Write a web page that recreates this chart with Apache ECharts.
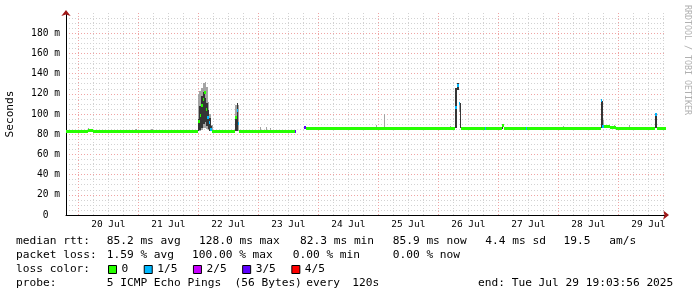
<!DOCTYPE html>
<html><head><meta charset="utf-8">
<script src="https://cdn.jsdelivr.net/npm/echarts@6/dist/echarts.min.js"></script>
<style>html,body{margin:0;padding:0;background:#fff}#c{width:697px;height:297px}</style>
</head><body><div id="c"></div>
<script>
// x values are hours relative to 20 Jul 00:00; graph ends Tue Jul 29 19:03:56 2025 (10 days shown)
const X_MIN = -4.934, X_MAX = 235.066;
const dayLabels = ['20 Jul','21 Jul','22 Jul','23 Jul','24 Jul','25 Jul','26 Jul','27 Jul','28 Jul','29 Jul'];
const dayLabelHours = [12,36,60,84,108,132,156,180,204,228];
const majorGridHours = [0,24,48,72,96,120,144,168,192,216];
const minorGridHours = [6,12,18,30,36,42,54,60,66,78,84,90,102,108,114,126,132,138,150,156,162,174,180,186,198,204,210,222,228,234];

// outer smoke (spread of all 5 pings), ms
const outerStart = [3.87, 22.67, 29.07, 46.67, 47.67, 48.27, 49.07, 49.87, 50.47, 51.07, 51.67, 52.27, 53.07, 62.67, 72.67, 75.07, 76.67, 119.07, 122.07, 148.67, 152.39, 193.87, 209.87, 214.27, 220.27];
const outerEnd   = [4.27, 23.27, 29.67, 47.27, 48.27, 49.07, 49.87, 50.47, 51.07, 51.67, 52.27, 53.07, 53.87, 64.07, 73.07, 75.47, 77.07, 119.47, 122.47, 149.07, 152.79, 194.27, 210.27, 214.67, 220.67];
const outerLow   = [82, 82, 82, 82, 83, 83, 84, 86, 86, 85, 84, 83, 83, 83, 82, 82, 82, 85, 85, 85, 102, 85, 88, 86, 85];
const outerHigh  = [86, 85, 85, 84, 120, 123, 126, 131, 132, 127, 112, 100, 89, 109, 87, 87, 86, 89, 100, 88, 109, 88, 94, 89, 89];

// inner smoke (dense part of the pings), ms
const innerStart = [47.67, 48.27, 49.07, 49.87, 50.47, 51.07, 51.67, 52.27, 53.07, 62.67, 63.27, 150.67, 151.47, 152.79, 169.47, 209.19, 230.79];
const innerEnd   = [48.27, 49.07, 49.87, 50.47, 51.07, 51.67, 52.27, 53.07, 53.47, 63.27, 63.87, 151.47, 152.39, 153.19, 169.87, 209.87, 231.47];
const innerLow   = [83, 84, 86, 90, 92, 88, 85, 83, 83, 83, 83, 86, 124, 86, 85, 86, 86];
const innerHigh  = [95, 108, 118, 122, 116, 111, 104, 96, 88, 98, 111, 126, 131, 111, 89, 113, 100];

// median rtt segments, ms, with packet loss (lost pings of 5)
const medianStart = [-4.934, 3.87, 5.87, 47.87, 48.47, 49.07, 49.67, 50.27, 50.87, 51.47, 52.07, 52.67, 53.27, 62.67, 63.27, 63.67, 64.07, 86.47, 90.27, 91.07, 150.67, 151.47, 152.39, 153.19, 162.47, 162.87, 169.47, 170.27, 179.07, 179.47, 209.19, 209.59, 210.27, 212.67, 215.07, 230.79, 231.47];
const medianEnd   = [3.87, 5.87, 47.87, 48.47, 49.07, 49.67, 50.27, 50.87, 51.47, 52.07, 52.67, 53.27, 62.67, 63.27, 63.67, 64.07, 86.47, 87.07, 91.07, 150.67, 151.47, 152.39, 152.79, 162.47, 162.87, 169.47, 170.27, 179.07, 179.47, 209.19, 209.59, 210.27, 212.67, 215.07, 230.79, 231.47, 235.066];
const medianValue = [82.5, 83.5, 82.5, 93, 99, 108, 114, 121, 104, 97, 92, 85, 82.5, 97, 103, 91, 82.5, 83, 86.5, 86, 106, 128, 110, 86, 86, 86, 88.5, 86, 86, 86, 113, 87.5, 88, 87, 86, 100, 86];
const medianLoss  = [0, 0, 0, 0, 0, 0, 0, 0, 0, 1, 1, 1, 0, 0, 1, 1, 0, 3, 3, 0, 1, 1, 1, 0, 1, 0, 0, 0, 1, 0, 1, 1, 0, 0, 0, 1, 0];

const lossLabels = ['0', '1/5', '2/5', '3/5', '4/5'];
const lossColors = ['#26ff00', '#00b8ff', '#c800ff', '#5e00ff', '#ff0000'];

const MONO = '"DejaVu Sans Mono", monospace';

function rectRender(color) {
  return function (params, api) {
    const p0 = api.coord([api.value(0), api.value(3)]);
    const p1 = api.coord([api.value(1), api.value(2)]);
    const x0 = Math.round(p0[0]);
    const x1 = Math.max(Math.round(p1[0]), x0 + 1);
    const y0 = Math.round(p0[1]);
    const y1 = Math.max(Math.round(p1[1]), y0 + 1);
    return { type: 'rect', shape: { x: x0, y: y0, width: x1 - x0, height: y1 - y0 }, style: { fill: color } };
  };
}
function medianRender(color) {
  return function (params, api) {
    const p0 = api.coord([api.value(0), api.value(2)]);
    const p1 = api.coord([api.value(1), api.value(2)]);
    const x0 = Math.round(p0[0]);
    const x1 = Math.max(Math.round(p1[0]), x0 + 1);
    return { type: 'rect', shape: { x: x0, y: Math.round(p0[1] - 1.5), width: x1 - x0, height: 3 }, style: { fill: color } };
  };
}
function vGridRender(color) {
  return function (params, api) {
    const x = Math.floor(api.coord([api.value(0), 0])[0]) + 0.5;
    const cs = params.coordSys;
    return { type: 'line', shape: { x1: x, y1: cs.y, x2: x, y2: cs.y + cs.height }, style: { stroke: color, lineWidth: 1, lineDash: [1, 2] }, silent: true };
  };
}

const outerData = outerStart.map((s, i) => [s, outerEnd[i], outerLow[i], outerHigh[i]]);
const innerData = innerStart.map((s, i) => [s, innerEnd[i], innerLow[i], innerHigh[i]]);

const series = [
  { type: 'custom', name: 'minorgrid', z: 1, silent: true, renderItem: vGridRender('#d2d2d2'), data: minorGridHours.map(h => [h]), encode: { x: 0 } },
  { type: 'custom', name: 'majorgrid', z: 1, silent: true, renderItem: vGridRender('#f0a4a4'), data: majorGridHours.map(h => [h]), encode: { x: 0 } },
  { type: 'custom', name: 'smokeOuter', z: 2, silent: true, clip: true, renderItem: rectRender('#a4a4a4'), data: outerData, encode: { x: [0, 1], y: [2, 3] } },
  { type: 'custom', name: 'smokeInner', z: 3, silent: true, clip: true, renderItem: rectRender('#353535'), data: innerData, encode: { x: [0, 1], y: [2, 3] } }
];
lossLabels.forEach((lab, k) => {
  const d = [];
  medianStart.forEach((s, i) => { if (medianLoss[i] === k) d.push([s, medianEnd[i], medianValue[i]]); });
  series.push({ type: 'custom', name: lab, z: 4, silent: true, clip: true, itemStyle: { color: lossColors[k] }, renderItem: medianRender(lossColors[k]), data: d, encode: { x: [0, 1], y: [2] } });
});

const textLines = [
  [241.5, [['median rtt:', 16], ['85.2 ms avg', 106.7], ['128.0 ms max', 199], ['82.3 ms min', 300], ['85.9 ms now', 392.7], ['4.4 ms sd', 485.3], ['19.5', 563.5], ['am/s', 609.3]]],
  [255.5, [['packet loss:', 16], ['1.59 % avg', 106.7], ['100.00 % max', 192], ['0.00 % min', 292.7], ['0.00 % now', 392.7]]],
  [269.5, [['loss color:', 16]]],
  [283.5, [['probe:', 16], ['5 ICMP Echo Pings', 106.7], ['(56 Bytes)', 234.5], ['every', 306.3], ['120s', 352.3], ['end: Tue Jul 29 19:03:56 2025', 478]]]
];
const graphics = [];
textLines.forEach(([y, segs]) => segs.forEach(([t, x]) => graphics.push({
  type: 'text', x: x, y: y, silent: true,
  style: { text: t, font: '11.2px ' + MONO, fill: '#000', verticalAlign: 'middle', align: 'left' }
})));
graphics.push({ type: 'text', x: 687.5, y: 60, rotation: -Math.PI / 2, silent: true,
  style: { text: 'RRDTOOL / TOBI OETIKER', font: '8.3px ' + MONO, fill: '#b0b0b0', align: 'center', verticalAlign: 'middle' } });

const yMajorColors = ['#f0a4a4','#f0a4a4','#f0a4a4','#f0a4a4','#f0a4a4','#f0a4a4','#f0a4a4','#f0a4a4','#f0a4a4','#f0a4a4','rgba(0,0,0,0)'];

const option = {
  animation: false,
  backgroundColor: '#ffffff',
  grid: { left: 66, top: 13, width: 600, height: 202, containLabel: false, outerBoundsMode: 'none' },
  xAxis: [
    { type: 'value', min: X_MIN, max: X_MAX, position: 'bottom',
      axisLine: { show: true, onZero: false, lineStyle: { color: '#000', width: 1 } },
      axisTick: { show: false }, splitLine: { show: false },
      axisLabel: { show: true, customValues: dayLabelHours, margin: 5, fontFamily: MONO, fontSize: 9.5, color: '#000',
        formatter: v => { const i = dayLabelHours.indexOf(Math.round(v)); return (i >= 0 && Math.abs(v - dayLabelHours[i]) < 0.01) ? dayLabels[i] : ''; } } },
    { type: 'value', min: X_MIN, max: X_MAX, position: 'bottom',
      axisLine: { show: true, onZero: false, symbol: ['none', 'arrow'], symbolSize: [7, 6], symbolOffset: [0, 3], lineStyle: { color: '#a01818', width: 0 } },
      axisTick: { show: false }, splitLine: { show: false }, axisLabel: { show: false } }
  ],
  yAxis: [
    { type: 'value', min: 0, max: 200, interval: 20, position: 'left',
      axisLine: { show: true, onZero: false, lineStyle: { color: '#000', width: 1 } },
      axisTick: { show: false },
      axisLabel: { margin: 6, fontFamily: MONO, fontSize: 9.6, color: '#000',
        formatter: v => v === 0 ? '0  ' : (v >= 200 ? '' : v + ' m') },
      splitLine: { show: true, showMaxLine: false, lineStyle: { color: yMajorColors, type: [1, 2], width: 1 } },
      minorTick: { show: false, splitNumber: 4 },
      minorSplitLine: { show: true, lineStyle: { color: '#d2d2d2', type: [1, 2], width: 1 } },
      name: 'Seconds', nameLocation: 'middle', nameGap: 50, nameRotate: 90,
      nameTextStyle: { fontFamily: MONO, fontSize: 11.2, color: '#000' } },
    { type: 'value', min: 0, max: 200, position: 'left',
      axisLine: { show: true, onZero: false, symbol: ['none', 'arrow'], symbolSize: [7, 6], symbolOffset: [0, 3], lineStyle: { color: '#a01818', width: 0 } },
      axisTick: { show: false }, splitLine: { show: false }, axisLabel: { show: false } }
  ],
  legend: {
    left: 108, top: 264, padding: 0, itemWidth: 8, itemHeight: 8, itemGap: 15.5, icon: 'rect', selectedMode: false,
    textStyle: { fontFamily: MONO, fontSize: 11.2, color: '#000' },
    data: lossLabels.map((l, k) => ({ name: l, icon: 'rect', itemStyle: { color: lossColors[k], borderColor: '#000', borderWidth: 1 } }))
  },
  graphic: graphics,
  series: series
};
const chart = echarts.init(document.getElementById('c'), null, { renderer: 'canvas' });
chart.setOption(option);
</script></body></html>
